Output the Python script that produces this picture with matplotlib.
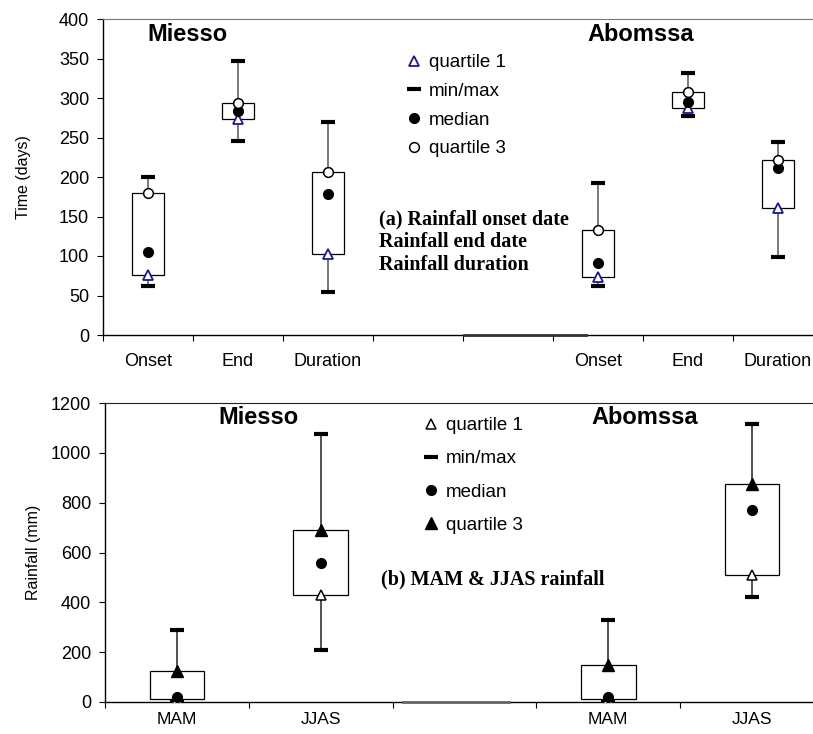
import matplotlib
matplotlib.use("Agg")
import matplotlib.pyplot as plt
from matplotlib.lines import Line2D
import numpy as np

plt.rcParams['font.family'] = ['Liberation Sans', 'DejaVu Sans']

# ---------------- data ----------------
# (a) timing statistics (days)
time_labels = ["Onset", "End", "Duration"]
miesso_time_min = [62, 246, 54]
miesso_time_q1 = [76, 274, 103]
miesso_time_med = [105, 283, 178]
miesso_time_q3 = [180, 294, 206]
miesso_time_max = [200, 347, 269]

abomssa_time_min = [62, 277, 99]
abomssa_time_q1 = [74, 287, 161]
abomssa_time_med = [91, 295, 211]
abomssa_time_q3 = [133, 308, 222]
abomssa_time_max = [192, 332, 244]

# (b) seasonal rainfall (mm)
rain_labels = ["MAM", "JJAS"]
miesso_rain_min = [0, 207]
miesso_rain_q1 = [12, 430]
miesso_rain_med = [20, 558]
miesso_rain_q3 = [123, 690]
miesso_rain_max = [287, 1075]

abomssa_rain_min = [0, 422]
abomssa_rain_q1 = [12, 510]
abomssa_rain_med = [20, 771]
abomssa_rain_q3 = [148, 874]
abomssa_rain_max = [331, 1117]

time_yticks = [0, 50, 100, 150, 200, 250, 300, 350, 400]
rain_yticks = [0, 200, 400, 600, 800, 1000, 1200]

# empty (zero) group drawn on the baseline between stations
time_empty_span = [4.51, 5.87]
rain_empty_span = [2.57, 3.31]

# ---------------- figure ----------------
W, H = 813, 734
fig = plt.figure(figsize=(W / 100, H / 100), dpi=100)


def px_axes(left, top, right, bottom):
    return fig.add_axes([left / W, 1 - bottom / H, (right - left) / W, (bottom - top) / H])


ax1 = px_axes(103, 19, 823, 335)
ax2 = px_axes(105, 403, 824, 702)

NAVY = "#1a1a8c"
TICKFS = 13
LEGFS = 13.5


def draw_group(ax, xs, mn, q1, med, q3, mx, width, q1_style, q3_style, whisk_color):
    xs = np.asarray(xs, dtype=float)
    ax.vlines(xs, mn, mx, color=whisk_color, lw=1.1, zorder=1)
    ax.bar(xs, np.subtract(q3, q1), bottom=q1, width=width, facecolor="white",
           edgecolor="black", linewidth=0.9, zorder=2)
    ax.plot(xs, mn, ls="none", marker="_", ms=9.5, mew=3, color="black", zorder=3)
    ax.plot(xs, mx, ls="none", marker="_", ms=9.5, mew=3, color="black", zorder=3)
    ax.plot(xs, q1, ls="none", zorder=4, **q1_style)
    ax.plot(xs, med, ls="none", marker="o", ms=7, color="black", zorder=4)
    ax.plot(xs, q3, ls="none", zorder=4, **q3_style)


def style_axes(ax, n_slots, centers, labels, yticks, ylabel, top_color, xfs, xpad):
    ax.set_xlim(0.5, n_slots + 0.5)
    ax.set_ylim(yticks[0], yticks[-1])
    ax.set_yticks(yticks)
    ax.set_xticks(np.arange(0.5, n_slots + 1.0, 1.0))
    ax.set_xticklabels([])
    ax.set_xticks(centers, minor=True)
    ax.set_xticklabels(labels, minor=True, fontsize=xfs)
    ax.tick_params(axis="x", which="minor", length=0, pad=xpad)
    ax.tick_params(axis="x", which="major", length=4, width=0.8, direction="out")
    ax.tick_params(axis="y", length=4, width=0.8, direction="out", labelsize=TICKFS, pad=6)
    ax.spines["top"].set_color(top_color)
    ax.spines["right"].set_color(top_color)
    for s in ("left", "bottom"):
        ax.spines[s].set_linewidth(1.0)
    ax.set_ylabel(ylabel, fontsize=11.5)


# ---- panel (a) ----
q1a = dict(marker="^", ms=7.5, mfc="white", mec=NAVY, mew=1.3)
q3a = dict(marker="o", ms=7, mfc="white", mec="black", mew=1.1)
draw_group(ax1, [1, 2, 3], miesso_time_min, miesso_time_q1, miesso_time_med,
           miesso_time_q3, miesso_time_max, 0.35, q1a, q3a, "#555555")
draw_group(ax1, [6, 7, 8], abomssa_time_min, abomssa_time_q1, abomssa_time_med,
           abomssa_time_q3, abomssa_time_max, 0.35, q1a, q3a, "#555555")
ax1.plot(time_empty_span, [0, 0], color="#333333", lw=2, zorder=3, clip_on=False)
style_axes(ax1, 8, [1, 2, 3, 6, 7, 8], time_labels + time_labels, time_yticks,
           "Time (days)", "#777777", TICKFS, 13)
ax1.yaxis.set_label_coords(-0.100, 0.5)

ax1.text(0.1167, 0.951, "Miesso", transform=ax1.transAxes, ha="center", va="center",
         fontsize=17, fontweight="bold")
ax1.text(0.747, 0.951, "Abomssa", transform=ax1.transAxes, ha="center", va="center",
         fontsize=17, fontweight="bold")

h_a = [Line2D([], [], ls="none", **q1a),
       Line2D([], [], ls="none", marker="_", ms=9.5, mew=3, color="black"),
       Line2D([], [], ls="none", marker="o", ms=7, color="black"),
       Line2D([], [], ls="none", **q3a)]
leg1 = fig.legend(h_a, ["quartile 1", "min/max", "median", "quartile 3"],
                  loc="upper left", bbox_to_anchor=(406 / W, 1 - 54 / H),
                  frameon=False, fontsize=LEGFS, handlelength=0.9, handletextpad=0.3,
                  labelspacing=0.62, borderpad=0, borderaxespad=0)

fig.text(379 / W, 1 - 209 / H, "(a) Rainfall onset date\nRainfall end date\nRainfall duration",
         family=["Liberation Serif", "DejaVu Serif"], fontweight="bold", fontsize=14.5,
         ha="left", va="top", linespacing=1.2)

# ---- panel (b) ----
q1b = dict(marker="^", ms=7.5, mfc="white", mec="black", mew=1.1)
q3b = dict(marker="^", ms=8.5, mfc="black", mec="black", mew=1.0)
draw_group(ax2, [1, 2], miesso_rain_min, miesso_rain_q1, miesso_rain_med,
           miesso_rain_q3, miesso_rain_max, 0.38, q1b, q3b, "#222222")
draw_group(ax2, [4, 5], abomssa_rain_min, abomssa_rain_q1, abomssa_rain_med,
           abomssa_rain_q3, abomssa_rain_max, 0.38, q1b, q3b, "#222222")
ax2.plot(rain_empty_span, [0, 0], color="#666666", lw=2, zorder=3, clip_on=False)
style_axes(ax2, 5, [1, 2, 4, 5], rain_labels + rain_labels, rain_yticks,
           "Rainfall (mm)", "#222222", 12.5, 7.5)
ax2.yaxis.set_label_coords(-0.089, 0.5)

ax2.text(0.2128, 0.9515, "Miesso", transform=ax2.transAxes, ha="center", va="center",
         fontsize=17, fontweight="bold")
ax2.text(0.751, 0.9515, "Abomssa", transform=ax2.transAxes, ha="center", va="center",
         fontsize=17, fontweight="bold")

h_b = [Line2D([], [], ls="none", **q1b),
       Line2D([], [], ls="none", marker="_", ms=9.5, mew=3, color="black"),
       Line2D([], [], ls="none", marker="o", ms=7, color="black"),
       Line2D([], [], ls="none", **q3b)]
leg2 = fig.legend(h_b, ["quartile 1", "min/max", "median", "quartile 3"],
                  loc="upper left", bbox_to_anchor=(423 / W, 1 - 417 / H),
                  frameon=False, fontsize=LEGFS, handlelength=0.9, handletextpad=0.3,
                  labelspacing=0.86, borderpad=0, borderaxespad=0)

fig.text(381 / W, 1 - 569 / H, "(b) MAM & JJAS rainfall",
         family=["Liberation Serif", "DejaVu Serif"], fontweight="bold", fontsize=14.5,
         ha="left", va="top")

fig.savefig("out.png", dpi=100)
